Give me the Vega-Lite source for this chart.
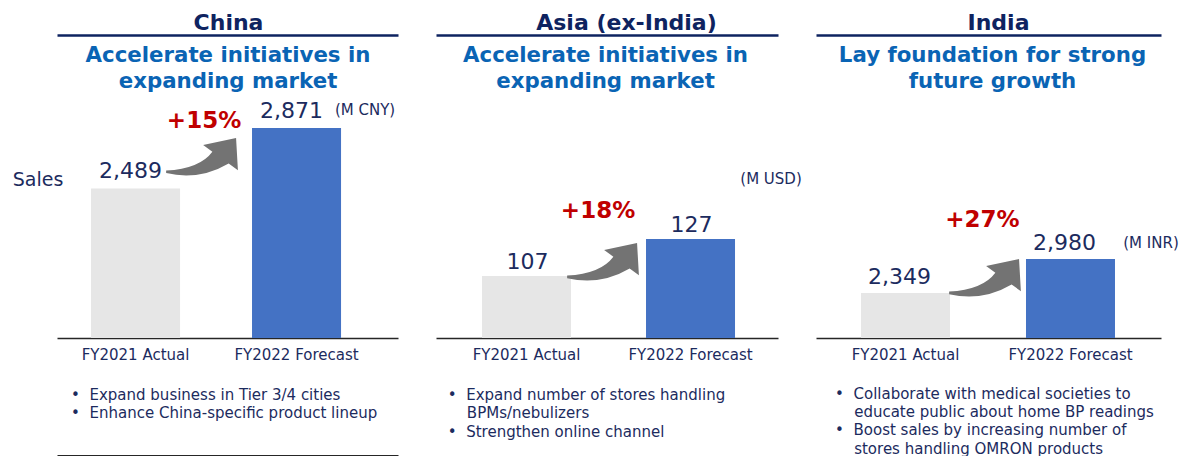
{
  "$schema": "https://vega.github.io/schema/vega-lite/v6.json",
  "background": "white",
  "padding": {"left": 12, "top": 12, "right": 0, "bottom": 0},
  "config": {"view": {"stroke": null}, "font": "DejaVu Sans", "axis": {"grid": false}},
  "spacing": 38,
  "bounds": "flush",
  "hconcat": [
    {
      "width": 341, "height": 303,
      "title": {"text": "China", "anchor": "middle", "frame": "group", "dx": 1, "offset": -17, "baseline": "alphabetic", "fontSize": 22, "fontWeight": "bold", "color": "#0e2360", "font": "DejaVu Sans"},
      "data": {"values": [
        {"period": "FY2021 Actual", "sales": 2489, "label": "2,489"},
        {"period": "FY2022 Forecast", "sales": 2871, "label": "2,871", "growth": "+15%", "unit": "(M CNY)"}
      ]},
      "resolve": {"axis": {"x": "independent", "y": "independent"}},
      "layer": [
        {
          "mark": {"type": "bar"},
          "encoding": {
            "x": {"field": "period", "type": "nominal",
              "scale": {"domain": ["FY2021 Actual", "FY2022 Forecast"], "paddingInner": 0.447, "paddingOuter": 0.2826, "align": 0.374},
              "axis": {"orient": "bottom", "domain": true, "domainColor": "#262626", "domainWidth": 1.5, "ticks": false, "grid": false, "labelAngle": 0, "labelFontSize": 15, "labelColor": "#1c2b5e", "labelPadding": 9,
                "title": ["\u2022\u00a0\u00a0Expand business in Tier 3/4 cities", "\u2022\u00a0\u00a0Enhance China-specific product lineup"],
                "titleX": 13.6, "titleY": 61, "titleAlign": "left", "titleAnchor": "start", "titleBaseline": "alphabetic", "titleFontSize": 15, "titleFontWeight": "normal", "titleColor": "#1c2b5e", "titleLineHeight": 18.5}},
            "y": {"field": "sales", "type": "quantitative", "scale": {"domain": [1545, 3458], "zero": false, "nice": false, "clamp": true},
              "axis": {"orient": "left", "domain": false, "ticks": false, "labels": false, "grid": false, "title": "Sales", "titleAngle": 0, "titleX": -19.5, "titleY": 150, "titleAlign": "center", "titleBaseline": "alphabetic", "titleFontSize": 19, "titleFontWeight": "normal", "titleColor": "#1c2b5e"}},
            "color": {"field": "period", "type": "nominal", "scale": {"domain": ["FY2021 Actual", "FY2022 Forecast"], "range": ["#e6e6e6", "#4472c4"]}, "legend": null}
          }
        },
        {
          "mark": {"type": "text", "baseline": "alphabetic", "fontSize": 22, "color": "#1c2b5e", "dx": -5, "dy": -10},
          "encoding": {
            "x": {"field": "period", "type": "nominal",
              "axis": {"orient": "top", "domain": true, "domainColor": "#0e2360", "domainWidth": 2.5, "ticks": false, "labels": false, "grid": false,
                "title": ["Accelerate initiatives in", "expanding market"], "titleX": 170.5, "titleY": 26, "titleAlign": "center", "titleBaseline": "alphabetic", "titleFontSize": 21.3, "titleFontWeight": "bold", "titleColor": "#0a64b4", "titleLineHeight": 26}},
            "y": {"field": "sales", "type": "quantitative", "axis": null},
            "text": {"field": "label"}
          }
        },
        {
          "transform": [{"filter": {"field": "period", "equal": "FY2022 Forecast"}}],
          "mark": {"type": "text", "baseline": "alphabetic", "fontSize": 23, "fontWeight": "bold", "color": "#c00000", "dx": -92.5, "dy": 0},
          "encoding": {
            "x": {"field": "period", "type": "nominal",
              "axis": {"orient": "bottom", "offset": 117, "domain": true, "domainColor": "#262626", "domainWidth": 1.2, "ticks": false, "labels": false, "grid": false, "title": null}},
            "y": {"field": "sales", "type": "quantitative", "axis": null},
            "text": {"field": "growth"}
          }
        },
        {
          "transform": [{"filter": {"field": "period", "equal": "FY2022 Forecast"}}],
          "mark": {"type": "text", "baseline": "alphabetic", "fontSize": 15, "color": "#1c2b5e", "dx": 68.5, "dy": -13},
          "encoding": {
            "x": {"field": "period", "type": "nominal", "axis": null},
            "y": {"field": "sales", "type": "quantitative", "axis": null},
            "text": {"field": "unit"}
          }
        },
        {
          "transform": [{"filter": {"field": "period", "equal": "FY2022 Forecast"}}],
          "mark": {"type": "point", "filled": true, "opacity": 1, "strokeWidth": 0, "color": "#737373", "size": 5476, "xOffset": -94.5, "yOffset": 27,
            "shape": "M-0.97,0.42Q-0.06,0.37,0.28,-0.09L0.03,-0.27L0.92,-0.46L0.97,0.41L0.72,0.23Q-0.08,0.70,-0.97,0.49Z"},
          "encoding": {
            "x": {"field": "period", "type": "nominal", "axis": null},
            "y": {"field": "sales", "type": "quantitative", "axis": null}
          }
        }
      ]
    },
    {
      "width": 342, "height": 303,
      "title": {"text": "Asia (ex-India)", "anchor": "middle", "frame": "group", "dx": 19.5, "offset": -17, "baseline": "alphabetic", "fontSize": 22, "fontWeight": "bold", "color": "#0e2360", "font": "DejaVu Sans"},
      "data": {"values": [
        {"period": "FY2021 Actual", "sales": 107, "label": "107"},
        {"period": "FY2022 Forecast", "sales": 127, "label": "127", "growth": "+18%", "unit": "(M USD)"}
      ]},
      "resolve": {"axis": {"x": "independent", "y": "independent"}},
      "layer": [
        {
          "mark": {"type": "bar"},
          "encoding": {
            "x": {"field": "period", "type": "nominal",
              "scale": {"domain": ["FY2021 Actual", "FY2022 Forecast"], "paddingInner": 0.4573, "paddingOuter": 0.2713, "align": 0.517},
              "axis": {"orient": "bottom", "domain": true, "domainColor": "#262626", "domainWidth": 1.5, "ticks": false, "grid": false, "labelAngle": 0, "labelFontSize": 15, "labelColor": "#1c2b5e", "labelPadding": 9,
                "title": ["\u2022\u00a0\u00a0Expand number of stores handling", "\u200b\u00a0\u00a0\u00a0\u00a0BPMs/nebulizers", "\u2022\u00a0\u00a0Strengthen online channel"],
                "titleX": 11.3, "titleY": 61, "titleAlign": "left", "titleAnchor": "start", "titleBaseline": "alphabetic", "titleFontSize": 15, "titleFontWeight": "normal", "titleColor": "#1c2b5e", "titleLineHeight": 18.5}},
            "y": {"field": "sales", "type": "quantitative", "scale": {"domain": [73.5, 237.3], "zero": false, "nice": false, "clamp": true}, "axis": null},
            "color": {"field": "period", "type": "nominal", "scale": {"domain": ["FY2021 Actual", "FY2022 Forecast"], "range": ["#e6e6e6", "#4472c4"]}, "legend": null}
          }
        },
        {
          "mark": {"type": "text", "baseline": "alphabetic", "fontSize": 22, "color": "#1c2b5e", "dx": 1, "dy": -7},
          "encoding": {
            "x": {"field": "period", "type": "nominal",
              "axis": {"orient": "top", "domain": true, "domainColor": "#0e2360", "domainWidth": 2.5, "ticks": false, "labels": false, "grid": false,
                "title": ["Accelerate initiatives in", "expanding market"], "titleX": 169, "titleY": 26, "titleAlign": "center", "titleBaseline": "alphabetic", "titleFontSize": 21.3, "titleFontWeight": "bold", "titleColor": "#0a64b4", "titleLineHeight": 26}},
            "y": {"field": "sales", "type": "quantitative", "axis": null},
            "text": {"field": "label"}
          }
        },
        {
          "transform": [{"filter": {"field": "period", "equal": "FY2022 Forecast"}}],
          "mark": {"type": "text", "baseline": "alphabetic", "fontSize": 23, "fontWeight": "bold", "color": "#c00000", "dx": -92.5, "dy": -21},
          "encoding": {
            "x": {"field": "period", "type": "nominal", "axis": null},
            "y": {"field": "sales", "type": "quantitative", "axis": null},
            "text": {"field": "growth"}
          }
        },
        {
          "transform": [{"filter": {"field": "period", "equal": "FY2022 Forecast"}}],
          "mark": {"type": "text", "baseline": "alphabetic", "fontSize": 15, "color": "#1c2b5e", "dx": 80.5, "dy": -55},
          "encoding": {
            "x": {"field": "period", "type": "nominal", "axis": null},
            "y": {"field": "sales", "type": "quantitative", "axis": null},
            "text": {"field": "unit"}
          }
        },
        {
          "transform": [{"filter": {"field": "period", "equal": "FY2022 Forecast"}}],
          "mark": {"type": "point", "filled": true, "opacity": 1, "strokeWidth": 0, "color": "#737373", "size": 5476, "xOffset": -87.5, "yOffset": 21,
            "shape": "M-0.97,0.42Q-0.06,0.37,0.28,-0.09L0.03,-0.27L0.92,-0.46L0.97,0.41L0.72,0.23Q-0.08,0.70,-0.97,0.49Z"},
          "encoding": {
            "x": {"field": "period", "type": "nominal", "axis": null},
            "y": {"field": "sales", "type": "quantitative", "axis": null}
          }
        }
      ]
    },
    {
      "width": 345, "height": 303,
      "title": {"text": "India", "anchor": "middle", "frame": "group", "dx": 10, "offset": -17, "baseline": "alphabetic", "fontSize": 22, "fontWeight": "bold", "color": "#0e2360", "font": "DejaVu Sans"},
      "data": {"values": [
        {"period": "FY2021 Actual", "sales": 2349, "label": "2,349"},
        {"period": "FY2022 Forecast", "sales": 2980, "label": "2,980", "growth": "+27%", "unit": "(M INR)"}
      ]},
      "resolve": {"axis": {"x": "independent", "y": "independent"}},
      "layer": [
        {
          "mark": {"type": "bar"},
          "encoding": {
            "x": {"field": "period", "type": "nominal",
              "scale": {"domain": ["FY2021 Actual", "FY2022 Forecast"], "paddingInner": 0.4606, "paddingOuter": 0.2758, "align": 0.4945},
              "axis": {"orient": "bottom", "domain": true, "domainColor": "#262626", "domainWidth": 1.5, "ticks": false, "grid": false, "labelAngle": 0, "labelFontSize": 15, "labelColor": "#1c2b5e", "labelPadding": 9,
                "title": ["\u2022\u00a0\u00a0Collaborate with medical societies to", "\u200b\u00a0\u00a0\u00a0\u00a0educate public about home BP readings", "\u2022\u00a0\u00a0Boost sales by increasing number of", "\u200b\u00a0\u00a0\u00a0\u00a0stores handling OMRON products"],
                "titleX": 18.6, "titleY": 60, "titleAlign": "left", "titleAnchor": "start", "titleBaseline": "alphabetic", "titleFontSize": 15, "titleFontWeight": "normal", "titleColor": "#1c2b5e", "titleLineHeight": 18.4}},
            "y": {"field": "sales", "type": "quantitative", "scale": {"domain": [1514, 7138], "zero": false, "nice": false, "clamp": true}, "axis": null},
            "color": {"field": "period", "type": "nominal", "scale": {"domain": ["FY2021 Actual", "FY2022 Forecast"], "range": ["#e6e6e6", "#4472c4"]}, "legend": null}
          }
        },
        {
          "mark": {"type": "text", "baseline": "alphabetic", "fontSize": 22, "color": "#1c2b5e", "dx": -6, "dy": -9},
          "encoding": {
            "x": {"field": "period", "type": "nominal",
              "axis": {"orient": "top", "domain": true, "domainColor": "#0e2360", "domainWidth": 2.5, "ticks": false, "labels": false, "grid": false,
                "title": ["Lay foundation for strong", "future growth"], "titleX": 176, "titleY": 26, "titleAlign": "center", "titleBaseline": "alphabetic", "titleFontSize": 21.3, "titleFontWeight": "bold", "titleColor": "#0a64b4", "titleLineHeight": 26}},
            "y": {"field": "sales", "type": "quantitative", "axis": null},
            "text": {"field": "label"}
          }
        },
        {
          "transform": [{"filter": {"field": "period", "equal": "FY2022 Forecast"}}],
          "mark": {"type": "text", "baseline": "alphabetic", "fontSize": 23, "fontWeight": "bold", "color": "#c00000", "dx": -88, "dy": -32},
          "encoding": {
            "x": {"field": "period", "type": "nominal", "axis": null},
            "y": {"field": "sales", "type": "quantitative", "axis": null},
            "text": {"field": "growth"}
          }
        },
        {
          "transform": [{"filter": {"field": "period", "equal": "FY2022 Forecast"}}],
          "mark": {"type": "text", "baseline": "alphabetic", "fontSize": 15, "color": "#1c2b5e", "dx": 80.5, "dy": -11},
          "encoding": {
            "x": {"field": "period", "type": "nominal", "axis": null},
            "y": {"field": "sales", "type": "quantitative", "axis": null},
            "text": {"field": "unit"}
          }
        },
        {
          "transform": [{"filter": {"field": "period", "equal": "FY2022 Forecast"}}],
          "mark": {"type": "point", "filled": true, "opacity": 1, "strokeWidth": 0, "color": "#737373", "size": 5476, "xOffset": -85.5, "yOffset": 17,
            "shape": "M-0.97,0.42Q-0.06,0.37,0.28,-0.09L0.03,-0.27L0.92,-0.46L0.97,0.41L0.72,0.23Q-0.08,0.70,-0.97,0.49Z"},
          "encoding": {
            "x": {"field": "period", "type": "nominal", "axis": null},
            "y": {"field": "sales", "type": "quantitative", "axis": null}
          }
        }
      ]
    }
  ]
}
